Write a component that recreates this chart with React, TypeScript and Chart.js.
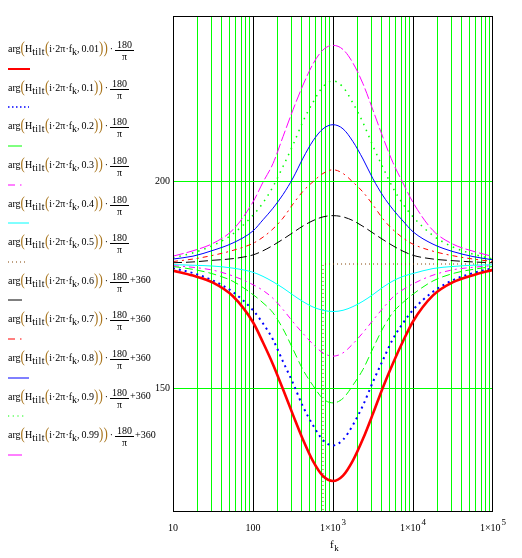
import React, { useEffect, useRef } from "react";
import { Chart, registerables } from "chart.js";

Chart.register(...registerables);

// frequency samples f_k (Hz) shared by all traces
const FREQ = [10, 17.78, 31.62, 56.23, 100, 133.4, 177.8, 237.1, 316.2, 421.7, 562.3, 749.9, 1000, 1334, 1778, 2371, 3162, 4217, 5623, 7499, 10000, 17783, 31623, 56234, 100000];
// the k = 0.5 trace jumps from -180 to +180 near 750 Hz
const FREQ_K05 = [10, 749, 750, 100000];

// phase values (degrees)
const PH_001 = [178.4, 177.2, 175.5, 172.2, 165.9, 161.0, 155.7, 149.7, 143.5, 137.5, 132.3, 128.7, 127.5, 128.8, 132.5, 137.7, 143.8, 150.2, 156.0, 161.3, 166.1, 172.4, 175.6, 177.3, 178.6];
const PH_01 = [179.0, 177.8, 176.0, 173.2, 168.8, 165.6, 161.7, 156.4, 151.2, 145.5, 141.0, 137.4, 136.1, 137.5, 141.1, 145.8, 151.5, 156.8, 161.9, 165.7, 168.9, 173.3, 176.1, 177.8, 179.0];
const PH_02 = [179.4, 178.7, 177.6, 175.8, 172.6, 170.6, 168.2, 164.3, 159.4, 154.4, 150.6, 147.4, 146.4, 147.5, 150.7, 154.5, 159.6, 164.5, 168.3, 170.7, 172.7, 175.9, 177.7, 178.7, 179.4];
const PH_03 = [179.6, 179.2, 178.5, 177.1, 175.0, 173.6, 171.7, 169.0, 166.0, 163.2, 160.6, 158.5, 157.7, 158.5, 160.7, 163.4, 166.4, 169.3, 172.0, 173.8, 175.2, 177.3, 178.6, 179.2, 179.6];
const PH_04 = [179.85, 179.7, 179.5, 179.0, 178.0, 177.0, 175.7, 174.2, 172.5, 170.9, 169.6, 168.8, 168.5, 168.8, 169.7, 171.0, 172.6, 174.4, 175.9, 177.0, 177.7, 178.9, 179.4, 179.7, 179.8];
const PH_05 = [-180, -180, 180, 180];
const PH_06 = [180.3, 180.5, 180.9, 181.3, 182.2, 183.2, 184.5, 186.0, 187.6, 189.2, 190.5, 191.4, 191.7, 191.4, 190.5, 189.1, 187.5, 185.9, 184.4, 183.1, 182.1, 181.2, 180.8, 180.5, 180.3];
const PH_07 = [180.6, 181.2, 182.1, 183.3, 185.0, 186.5, 188.5, 191.1, 194.5, 197.6, 199.9, 201.9, 202.8, 201.9, 199.8, 197.4, 194.3, 190.9, 188.3, 186.3, 184.8, 183.1, 182.0, 181.2, 180.6];
const PH_08 = [181.2, 181.9, 183.3, 185.1, 188.0, 190.7, 193.5, 196.8, 200.8, 205.6, 209.8, 212.7, 213.7, 212.7, 209.6, 205.4, 200.6, 196.5, 193.2, 190.4, 187.8, 184.8, 183.0, 181.8, 181.0];
const PH_09 = [181.5, 182.7, 184.5, 187.3, 191.8, 194.8, 198.7, 203.6, 208.8, 214.5, 219.1, 222.9, 224.3, 222.8, 218.9, 214.2, 208.5, 203.3, 198.4, 194.5, 191.4, 186.9, 184.1, 182.4, 181.2];
const PH_099 = [181.9, 183.2, 185.0, 188.3, 195.0, 199.8, 204.3, 210.8, 217.3, 223.3, 228.4, 231.8, 232.9, 231.9, 228.6, 223.6, 217.2, 210.6, 204.5, 199.6, 194.9, 188.1, 184.8, 183.1, 181.8];

// legend parameters k and additive offsets
const K_VALUES = ["0.01", "0.1", "0.2", "0.3", "0.4", "0.5", "0.6", "0.7", "0.8", "0.9", "0.99"];
const K_OFFSETS = ["", "", "", "", "", "", "+360", "+360", "+360", "+360", "+360"];

// axis ticks
const Y_TICKS = [150, 200];
const X_DECADES = [10, 100, 1000, 10000, 100000];
const X_TICK_BASE = ["10", "100", "1×10", "1×10", "1×10"];
const X_TICK_EXP = ["", "", "3", "4", "5"];
const Y_MIN = 120;
const Y_MAX = 240;

const SERIES_VALUES = [PH_001, PH_01, PH_02, PH_03, PH_04, PH_05, PH_06, PH_07, PH_08, PH_09, PH_099];

const STYLES = [
  { color: "#ff0000", width: 2.6, dash: [] as number[] },
  { color: "#0000ff", width: 2, dash: [2, 4] },
  { color: "#00ff00", width: 1, dash: [8, 4] },
  { color: "#ff00ff", width: 1, dash: [6, 4, 2, 4] },
  { color: "#00ffff", width: 1, dash: [] as number[] },
  { color: "#804000", width: 1, dash: [1, 3] },
  { color: "#000000", width: 1, dash: [9, 4] },
  { color: "#ff0000", width: 1, dash: [5, 4, 2, 4] },
  { color: "#0000ff", width: 1, dash: [] as number[] },
  { color: "#00ff00", width: 1.5, dash: [1.5, 5] },
  { color: "#ff00ff", width: 1, dash: [11, 3] },
];

// legend sample segments
const LEGEND_SAMPLES: { x1: number; x2: number; dash: string; w: number }[] = [
  { x1: 8, x2: 30, dash: "", w: 2 },
  { x1: 8, x2: 29, dash: "1.5 2.5", w: 1.5 },
  { x1: 8, x2: 22, dash: "", w: 1 },
  { x1: 8, x2: 22, dash: "7 5 1.5 10", w: 1 },
  { x1: 8, x2: 29, dash: "", w: 1 },
  { x1: 8, x2: 26, dash: "1 3", w: 1 },
  { x1: 8, x2: 22, dash: "", w: 1 },
  { x1: 8, x2: 22, dash: "7 5 1.5 10", w: 1 },
  { x1: 8, x2: 29, dash: "", w: 1 },
  { x1: 8, x2: 26, dash: "1.2 3.5", w: 1.2 },
  { x1: 8, x2: 22, dash: "", w: 1 },
];

const FONT = '"Liberation Serif", "Times New Roman", serif';
const GRID_GREEN = "rgb(0,255,0)";

const gridPlugin = {
  id: "mathcadGrid",
  beforeDatasetsDraw(chart: any) {
    const { ctx, chartArea: a } = chart;
    const xs = chart.scales.x;
    const ys = chart.scales.y;
    const top = Math.round(a.top);
    const bottom = Math.round(a.bottom);
    const left = Math.round(a.left);
    const right = Math.round(a.right);
    ctx.save();
    for (let d = 10; d < 100000; d *= 10) {
      for (let m = 1; m < 10; m++) {
        const v = d * m;
        const px = Math.round(xs.getPixelForValue(v));
        ctx.fillStyle = m === 1 ? "#000000" : GRID_GREEN;
        ctx.fillRect(px, top, 1, bottom - top);
      }
    }
    Y_TICKS.forEach((v) => {
      const py = Math.round(ys.getPixelForValue(v));
      ctx.fillStyle = GRID_GREEN;
      ctx.fillRect(left, py, right - left, 1);
    });
    ctx.restore();
  },
  afterDatasetsDraw(chart: any) {
    const { ctx, chartArea: a } = chart;
    ctx.save();
    ctx.fillStyle = "#000";
    const l = Math.round(a.left);
    const t = Math.round(a.top);
    const r = Math.round(a.right);
    const b = Math.round(a.bottom);
    ctx.fillRect(l, t, r - l, 1);
    ctx.fillRect(l, b - 1, r - l, 1);
    ctx.fillRect(l, t, 1, b - t);
    ctx.fillRect(r - 1, t, 1, b - t);

    const xs = chart.scales.x;
    ctx.textBaseline = "alphabetic";
    ctx.textAlign = "left";
    X_DECADES.forEach((v, i) => {
      const px = xs.getPixelForValue(v);
      const base = X_TICK_BASE[i];
      const exp = X_TICK_EXP[i];
      ctx.font = `10px ${FONT}`;
      const wb = ctx.measureText(base).width;
      ctx.font = `9px ${FONT}`;
      const we = exp ? ctx.measureText(exp).width + 1 : 0;
      const x0 = px - (wb + we) / 2;
      ctx.font = `10px ${FONT}`;
      ctx.fillText(base, x0, 531);
      if (exp) {
        ctx.font = `9px ${FONT}`;
        ctx.fillText(exp, x0 + wb + 1, 524.5);
      }
    });

    const cx = xs.getPixelForValue(1000);
    ctx.font = `11px ${FONT}`;
    ctx.fillText("f", cx - 3, 548);
    const wf = ctx.measureText("f").width;
    ctx.font = `9px ${FONT}`;
    ctx.fillText("k", cx - 3 + wf + 0.5, 551);
    ctx.restore();
  },
};

function LegendRow({ i }: { i: number }) {
  const barY = 50.7 + 38.6 * i;
  const lineY = 68.7 + 38.6 * i;
  const paren: React.CSSProperties = { fontSize: 13, color: "#a8741c", display: "inline-block", transform: "scaleY(1.25)" };
  const sub: React.CSSProperties = { position: "relative", top: 3 };
  const s = LEGEND_SAMPLES[i];
  const st = STYLES[i];
  return (
    <>
      <div
        style={{
          position: "absolute",
          left: 8,
          top: barY - 15,
          height: 30,
          display: "flex",
          alignItems: "center",
          fontFamily: FONT,
          fontSize: 10,
          color: "#000",
          whiteSpace: "nowrap",
        }}
      >
        <span style={{ position: "relative", top: -2, lineHeight: "12px" }}>
          arg<span style={paren}>(</span>H<span style={{ ...sub, letterSpacing: 0.4 }}>tilt</span>
          <span style={paren}>(</span>i·2π·f<span style={sub}>k</span>
          {","}
          <span style={{ marginLeft: 2 }}>{K_VALUES[i]}</span>
          <span style={paren}>)</span>
          <span style={paren}>)</span>
          <span style={{ margin: "0 2px" }}>·</span>
        </span>
        <span style={{ display: "inline-flex", flexDirection: "column", alignItems: "center" }}>
          <span style={{ lineHeight: "11px", padding: "0 2px" }}>180</span>
          <span style={{ borderTop: "1px solid #000", lineHeight: "11px", alignSelf: "stretch", textAlign: "center" }}>π</span>
        </span>
        {K_OFFSETS[i] ? <span style={{ position: "relative", top: -2, lineHeight: "12px", marginLeft: 1 }}>{K_OFFSETS[i]}</span> : null}
      </div>
      <svg style={{ position: "absolute", left: 0, top: lineY - 3 }} width={40} height={6}>
        <line
          x1={s.x1}
          x2={s.x2}
          y1={3}
          y2={3}
          stroke={st.color}
          strokeWidth={s.w}
          strokeDasharray={s.dash || undefined}
        />
      </svg>
    </>
  );
}

export default function App() {
  const canvasRef = useRef<HTMLCanvasElement | null>(null);

  useEffect(() => {
    const canvas = canvasRef.current;
    if (!canvas) return;

    const datasets = SERIES_VALUES.map((vals, i) => {
      const xs = i === 5 ? FREQ_K05 : FREQ;
      return {
        label: "k=" + K_VALUES[i],
        data: vals.map((y, j) => ({ x: xs[j], y })),
        borderColor: STYLES[i].color,
        backgroundColor: STYLES[i].color,
        borderWidth: STYLES[i].width,
        borderDash: STYLES[i].dash,
        pointRadius: 0,
        fill: false,
        cubicInterpolationMode: i === 5 ? "default" : "monotone",
        tension: 0,
      };
    });

    const chart = new Chart(canvas, {
      type: "line",
      data: { datasets: datasets as any },
      options: {
        animation: false,
        responsive: false,
        maintainAspectRatio: false,
        layout: { padding: { left: 0, top: 16, right: 29, bottom: 0 } },
        plugins: { legend: { display: false }, tooltip: { enabled: false } },
        scales: {
          x: {
            type: "logarithmic",
            min: 10,
            max: 100000,
            afterFit: (scale: any) => {
              scale.height = 46;
            },
            grid: { display: false, drawTicks: false },
            border: { display: false },
            ticks: { display: false },
          },
          y: {
            type: "linear",
            min: Y_MIN,
            max: Y_MAX,
            afterBuildTicks: (scale: any) => {
              scale.ticks = Y_TICKS.map((v) => ({ value: v }));
            },
            afterFit: (scale: any) => {
              scale.width = 173;
            },
            grid: { display: false, drawTicks: false },
            border: { display: false },
            ticks: {
              color: "#000",
              padding: 3,
              font: { family: FONT, size: 10 },
              callback: (v: any) => String(v),
            },
          },
        },
      },
      plugins: [gridPlugin],
    });
    return () => chart.destroy();
  }, []);

  return (
    <div style={{ position: "absolute", left: 0, top: 0, width: 522, height: 558, background: "#fff", overflow: "hidden" }}>
      <canvas ref={canvasRef} width={522} height={558} style={{ position: "absolute", left: 0, top: 0, width: 522, height: 558 }} />
      {K_VALUES.map((_, i) => (
        <LegendRow key={i} i={i} />
      ))}
    </div>
  );
}
